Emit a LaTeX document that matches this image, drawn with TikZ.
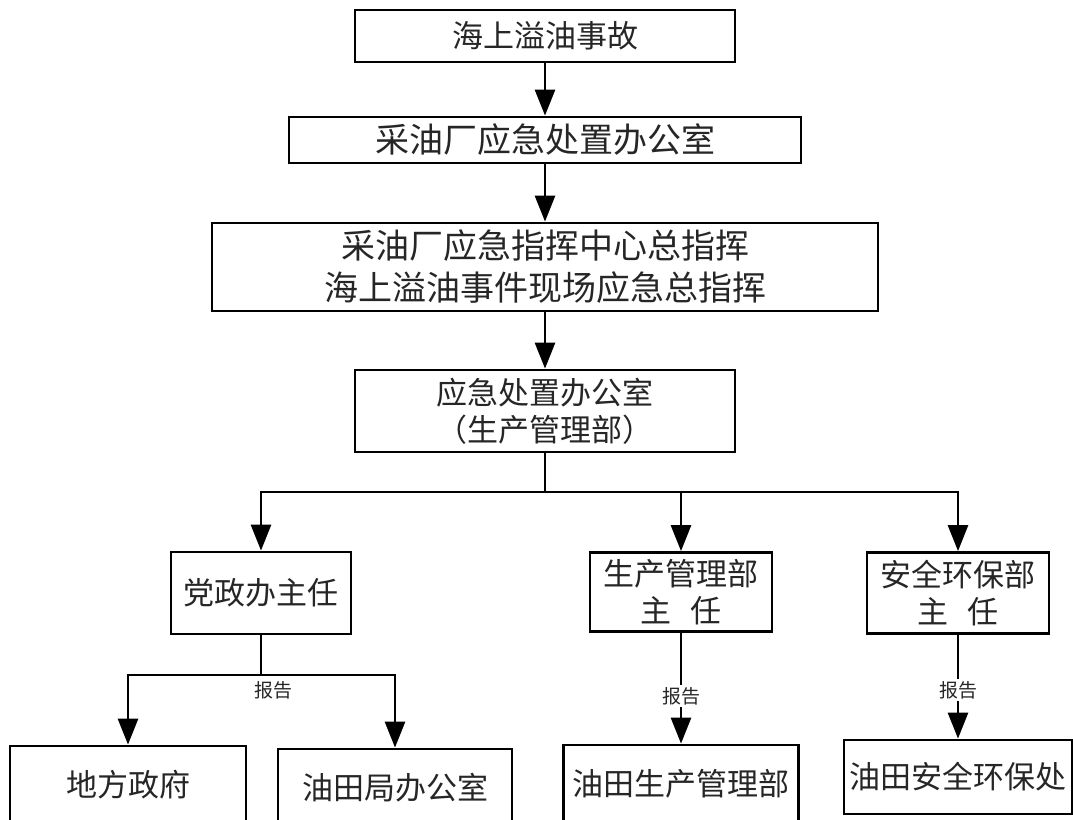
\documentclass[tikz,border=0pt]{standalone}
\usepackage{fontspec}
\setmainfont{Noto Sans CJK SC}
\usetikzlibrary{arrows.meta}
\tikzset{
  >={Triangle[length=26pt,width=20pt]},
  box/.style={draw=black,line width=2.8pt,inner sep=0pt,align=center,
    text=black!85,font=\fontsize{31}{37}\selectfont},
  bigbox/.style={box,font=\fontsize{34}{42}\selectfont},
  flow/.style={->,line width=2.8pt},
  link/.style={line width=2.8pt},
  replbl/.style={font=\fontsize{19}{22}\selectfont,fill=white,inner sep=2pt,
    text=black!85},
}
\begin{document}
\begin{tikzpicture}[x=1pt,y=-1pt]
  \useasboundingbox (0,0) rectangle (1073,819);
  % main chain
  \node[box,minimum width=380pt,minimum height=52pt] (accident) at (545,36) {海上溢油事故};
  \node[bigbox,minimum width=512pt,minimum height=46pt] (plantoffice) at (545,140) {采油厂应急处置办公室};
  \node[bigbox,minimum width=666pt,minimum height=88pt] (command) at (545,267)
    {采油厂应急指挥中心总指挥\\海上溢油事件现场应急总指挥};
  \node[box,minimum width=380pt,minimum height=82pt] (office) at (545,411)
    {应急处置办公室\\（生产管理部）};
  % chiefs
  \node[box,minimum width=180pt,minimum height=82pt] (partychief) at (261,593) {党政办主任};
  \node[box,minimum width=182pt,minimum height=79pt] (prodchief) at (681,592)
    {生产管理部\\主\hspace{0.6em}任};
  \node[box,minimum width=182pt,minimum height=81pt] (safechief) at (958,593)
    {安全环保部\\主\hspace{0.6em}任};
  % report targets
  \node[box,minimum width=236pt,minimum height=78pt] (localgov) at (128,785) {地方政府};
  \node[box,minimum width=234pt,minimum height=78pt] (bureau) at (395,788) {油田局办公室};
  \node[box,minimum width=235pt,minimum height=78pt] (fieldprod) at (681,784) {油田生产管理部};
  \node[box,minimum width=228pt,minimum height=74pt] (fieldsafe) at (958,777) {油田安全环保处};

  \draw[flow] (accident) -- (plantoffice);
  \draw[flow] (plantoffice) -- (command);
  \draw[flow] (command) -- (office);

  \coordinate (split) at (545,492);
  \draw[link] (office) -- (split);
  \draw[flow] (split) -| (partychief);
  \draw[flow] (split) -| (prodchief);
  \draw[flow] (split) -| (safechief);

  \coordinate (report) at (261,675);
  \draw[link] (partychief) -- (report);
  \draw[flow] (report) -| (localgov);
  \draw[flow] (report) -| (bureau);
  \node[replbl] (replocal) at (273,690) {报告};

  \draw[flow] (prodchief) -- node[replbl,pos=.57] (repprod) {报告} (fieldprod);
  \draw[flow] (safechief) -- node[replbl,pos=.53] (repsafe) {报告} (fieldsafe);
\end{tikzpicture}
\end{document}
